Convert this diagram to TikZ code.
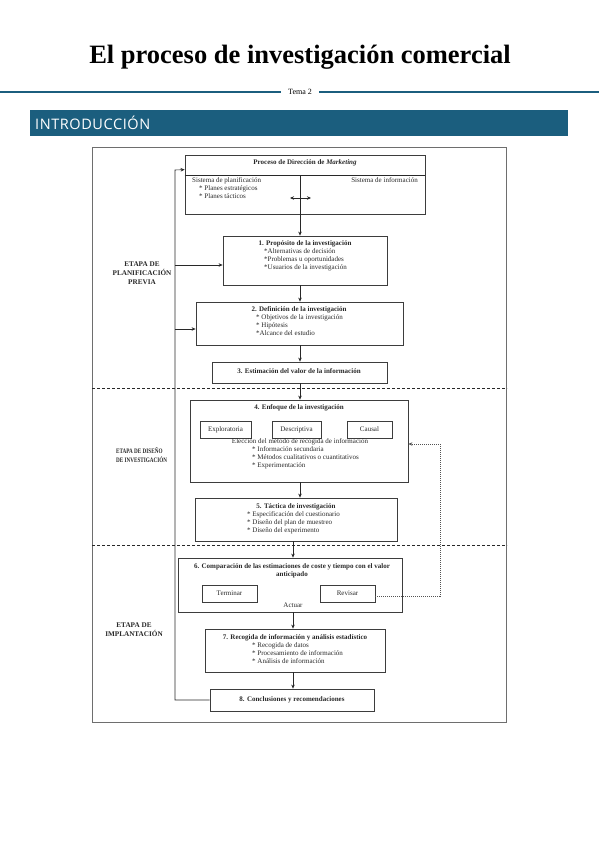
\documentclass[tikz,border=0pt]{standalone}
\usepackage{fontspec}
\setmainfont{Liberation Serif}
\newfontfamily\bannerfont[LetterSpace=4]{Open Sans}
\newfontfamily\condfont[FakeStretch=0.76]{Liberation Serif}
\usetikzlibrary{arrows.meta,calc}
\definecolor{banner}{RGB}{27,94,126}
\definecolor{ink}{RGB}{40,40,40}
\definecolor{frm}{RGB}{110,110,110}
\tikzset{
  box/.style={draw=ink!90, line width=0.8pt, inner sep=0pt, minimum width=#1},
  small/.style={font=\fontsize{7}{8.2}\selectfont, text=ink, inner sep=0pt},
  bsmall/.style={font=\bfseries\fontsize{7}{8.2}\selectfont, text=ink, inner sep=0pt},
  stage/.style={font=\bfseries\fontsize{7.2}{9}\selectfont, text=ink, inner sep=0pt},
  arr/.style={draw=ink, line width=0.6pt, -{Stealth[length=4pt,width=3.5pt]}},
  ln/.style={draw=ink, line width=0.6pt},
  sep/.style={draw=ink, line width=0.7pt, dash pattern=on 3pt off 2pt},
  dotl/.style={draw=ink!80, line width=0.5pt, dash pattern=on 1pt off 1pt, -{Stealth[length=4pt,width=3.5pt]}},
}
\begin{document}
\begin{tikzpicture}[x=1pt,y=-1pt]
\useasboundingbox (0,0) rectangle (599,848);
% header
\node[font=\bfseries\fontsize{26.5}{30}\selectfont] (title) at (300,57) {El proceso de investigación comercial};
\node[font=\fontsize{8}{9}\selectfont, inner sep=0pt] (tema) at (300,92) {Tema 2};
\coordinate (hl) at (0,92);
\coordinate (hr) at (599,92);
\draw[banner, line width=2.5pt] (hl) -- ([xshift=-19pt]tema.center);
\draw[banner, line width=2.5pt] ([xshift=19pt]tema.center) -- (hr);
\node[fill=banner, minimum width=538pt, minimum height=26pt, inner sep=0pt, anchor=north west] (ban) at (30,110) {};
\node[font=\bannerfont\fontsize{14.5}{16}\selectfont, text=white, anchor=west, inner sep=0pt] (bantxt) at (35,123) {INTRODUCCIÓN};
% frame
\node[draw=frm, line width=1pt, minimum width=414pt, minimum height=575pt, anchor=north west, inner sep=0pt] (frame) at (92,147) {};
% boxes
\node[box=240pt, minimum height=59pt] (top) at (305,184.5) {};
\coordinate (dv) at (300,175);
\draw[ln] (top.west |- dv) -- (top.east |- dv);
\draw[ln] (dv) -- (dv |- top.south);
\node[box=164pt, minimum height=49pt] (b1) at (305,260.5) {};
\node[box=207pt, minimum height=43pt] (b2) at (299.5,323.5) {};
\node[box=175pt, minimum height=21pt] (b3) at (299.5,372.5) {};
\node[box=218pt, minimum height=82pt] (b4) at (299,441) {};
\node[box=51pt, minimum height=17pt] (e1) at (225.5,429.5) {};
\node[box=49pt, minimum height=17pt] (e2) at (296.5,429.5) {};
\node[box=45pt, minimum height=17pt] (e3) at (369.5,429.5) {};
\node[box=202pt, minimum height=43pt] (b5) at (296,519.5) {};
\node[box=224pt, minimum height=54pt] (b6) at (290,585) {};
\node[box=55pt, minimum height=17pt] (term) at (229.5,593.5) {};
\node[box=55pt, minimum height=17pt] (rev) at (347.5,593.5) {};
\node[box=180pt, minimum height=43pt] (b7) at (295,650.5) {};
\node[box=164pt, minimum height=22pt] (b8) at (292,700) {};
% texts top box
\node[bsmall] (t0) at (305,163) {Proceso de Dirección de \textit{Marketing}};
\node[small, anchor=west] (t0a) at (192,180.5) {Sistema de planificación};
\node[small, anchor=north west, align=left] (t0b) at (199,185.5) {* Planes estratégicos\\* Planes tácticos};
\node[small, anchor=east] (t0c) at (418,180.5) {Sistema de información};
% box1
\node[bsmall] (t1) at (305,244) {1. Propósito de la investigación};
\node[small, anchor=north west, align=left] (t1a) at (264,248.5) {*Alternativas de decisión\\*Problemas u oportunidades\\*Usuarios de la investigación};
% box2
\node[bsmall] (t2) at (299,310) {2. Definición de la investigación};
\node[small, anchor=north west, align=left] (t2a) at (256,314) {* Objetivos de la investigación\\* Hipótesis\\*Alcance del estudio};
% box3
\node[bsmall] (t3) at (299,371) {3. Estimación del valor de la información};
% box4
\node[bsmall] (t4) at (299,408) {4. Enfoque de la investigación};
\node[small] at (e1) {Exploratoria};
\node[small] at (e2) {Descriptiva};
\node[small] at (e3) {Causal};
\node[small] (t4a) at (300,442) {Elección del método de recogida de información};
\node[small, anchor=north west, align=left] (t4b) at (252,446) {* Información secundaria\\* Métodos cualitativos o cuantitativos\\* Experimentación};
% box5
\node[bsmall] (t5) at (296,507) {5. Táctica de investigación};
\node[small, anchor=north west, align=left] (t5a) at (247,511) {* Especificación del cuestionario\\* Diseño del plan de muestreo\\* Diseño del experimento};
% box6
\node[bsmall, align=center] (t6) at (292,571) {6. Comparación de las estimaciones de coste y tiempo con el valor\\anticipado};
\node[small] at (term) {Terminar};
\node[small] at (rev) {Revisar};
\node[small] (act) at (293,605) {Actuar};
% box7
\node[bsmall] (t7) at (295,638) {7. Recogida de información y análisis estadístico};
\node[small, anchor=north west, align=left] (t7a) at (252,642) {* Recogida de datos\\* Procesamiento de información\\* Análisis de información};
% box8
\node[bsmall] (t8) at (292,700) {8. Conclusiones y recomendaciones};
% stage labels
\node[stage, align=center] (s1) at (142,273) {ETAPA DE\\PLANIFICACIÓN\\PREVIA};
\node[stage, font=\condfont\bfseries\fontsize{6.8}{8.5}\selectfont, align=left, anchor=west] (s2) at (116,455) {ETAPA DE DISEÑO\\DE INVESTIGACIÓN};
\node[stage, align=center] (s3) at (134,629.5) {ETAPA DE\\IMPLANTACIÓN};
% separators
\coordinate (sy1) at (0,388);
\coordinate (sy2) at (0,545);
\draw[sep] (frame.west |- sy1) -- (frame.east |- sy1);
\draw[sep] (frame.west |- sy2) -- (frame.east |- sy2);
% main arrows
\coordinate (ax) at (300,0);
\coordinate (bx) at (293,0);
\draw[arr] (top.south -| ax) -- (b1.north -| ax);
\draw[arr] (b1.south -| ax) -- (b2.north -| ax);
\draw[arr] (b2.south -| ax) -- (b3.north -| ax);
\draw[arr] (b3.south -| ax) -- (b4.north -| ax);
\draw[arr] (b4.south -| ax) -- (b5.north -| ax);
\draw[arr] (b5.south -| bx) -- (b6.north -| bx);
\draw[arr] (b6.south -| bx) -- (b7.north -| bx);
\draw[arr] (b7.south -| bx) -- (b8.north -| bx);
% double arrow in top box
\coordinate (da1) at (290,198);
\coordinate (da2) at (311,198);
\draw[ink, line width=0.6pt, {Stealth[length=4pt,width=3.5pt]}-{Stealth[length=4pt,width=3.5pt]}] (da1) -- (da2);
% feedback
\coordinate (fb) at (175,0);
\draw[arr] (b8.west) -- (b8.west -| fb) -- (fb |- 0,170) -- ([yshift=-15pt]top.north west);
\draw[arr] ([yshift=-4.5pt]b1.west -| fb) -- ([yshift=-4.5pt]b1.west);
\draw[arr] ([yshift=-5.5pt]b2.west -| fb) -- ([yshift=-5.5pt]b2.west);
% revisar feedback
\coordinate (fr) at (440,0);
\draw[dotl] ([yshift=-2.5pt]rev.east) -- ([yshift=-2.5pt]rev.east -| fr) -- ([yshift=-3pt]b4.east -| fr) -- ([yshift=-3pt]b4.east);
\end{tikzpicture}
\end{document}
